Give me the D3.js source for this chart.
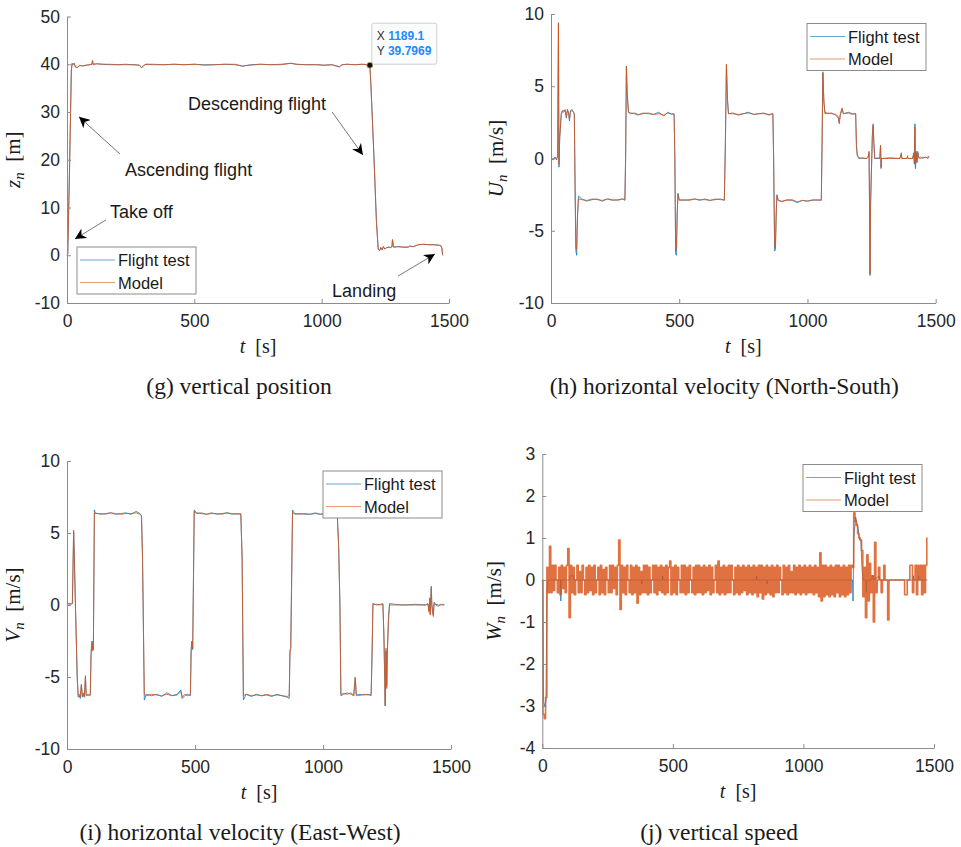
<!DOCTYPE html>
<html>
<head>
<meta charset="utf-8">
<script src="https://cdn.jsdelivr.net/npm/d3@7"></script>
<style>
  body { margin: 0; background: #fff; }
  .tick text { font-family: "Liberation Sans", Arial, sans-serif; font-size: 17.5px; fill: #262626; }
  .serif { font-family: "Liberation Serif", "Times New Roman", serif; fill: #1a1a1a; }
  .sans { font-family: "Liberation Sans", Arial, sans-serif; fill: #1a1a1a; }
</style>
</head>
<body>
<svg id="fig" width="961" height="847"></svg>
<script>
// common
var tTicks = [0, 500, 1000, 1500];
var seriesNames = ["Flight test", "Model"];
var colors = ["#0072BD", "#D95319"];

// (g) vertical position
var zT = [0,3,10,17,20,24,28,33,40,50,60,75,90,98,100,103,115,140,170,200,230,260,285,293,300,310,340,380,420,460,500,540,580,620,660,690,700,720,760,800,840,880,900,940,980,1010,1040,1070,1080,1100,1130,1160,1180,1189.1,1193,1205,1215,1222,1228,1232,1238,1242,1248,1255,1265,1270,1276,1278,1282,1300,1320,1340,1345,1360,1380,1400,1420,1440,1460,1468,1472,1475];
var zModel = [0,0.3,18,38.5,40.2,39.9,40.2,39.4,39.3,39.8,39.6,39.8,39.9,40.0,40.8,39.9,40.1,40.0,40.0,39.9,39.9,39.9,39.8,39.2,39.7,40.0,40.0,39.9,40.0,39.9,40.0,39.8,39.9,40.0,40.0,39.6,39.7,39.8,40.0,39.9,39.9,40.2,40.0,39.9,39.9,39.8,39.9,39.4,39.9,40.0,39.9,40.0,39.9,39.8,36,21,7,1.2,1.0,1.6,1.1,1.8,1.3,1.6,1.7,1.6,1.8,3.2,1.7,1.8,1.7,1.7,1.9,1.8,2.2,2.3,2.2,2.2,2.1,2.0,1.5,0];
var zFlight = [0,0.2,18.5,38.8,40.1,40.0,40.2,39.5,39.3,39.7,39.7,39.8,39.9,40.0,40.7,40.0,40.1,40.0,39.9,39.9,40.0,39.9,39.8,39.3,39.7,40.0,39.9,39.9,40.0,39.9,40.0,39.9,39.9,40.0,39.9,39.6,39.7,39.9,40.0,39.9,40.0,40.2,40.0,39.9,39.9,39.8,39.9,39.5,39.9,40.0,39.9,40.0,39.9,39.8,36.2,21.2,7.3,1.3,1.0,1.6,1.1,1.8,1.3,1.6,1.7,1.6,1.8,3.3,1.7,1.8,1.7,1.7,1.9,1.8,2.2,2.3,2.2,2.2,2.1,2.0,1.5,0];
var zTicks = [-10, 0, 10, 20, 30, 40, 50];

// (h) horizontal velocity North-South
var uT = [0,8,15,22,26,29,31,34,40,44,50,55,60,64,68,72,76,82,88,91,94,97,100,103,107,120,140,160,180,200,220,240,260,280,288,291,294,297,302,310,325,340,360,380,400,420,440,455,470,480,483,486,489,492,495,500,520,540,560,580,600,620,640,660,676,680,684,688,692,710,730,750,770,790,810,830,850,865,868,872,875,878,881,886,900,920,940,960,980,1000,1020,1040,1054,1057,1060,1064,1068,1080,1095,1110,1120,1124,1128,1135,1140,1160,1175,1188,1191,1194,1200,1215,1230,1238,1240,1242,1244,1246,1249,1253,1256,1259,1262,1275,1282,1285,1287,1289,1320,1360,1366,1368,1388,1390,1392,1410,1414,1417,1419,1421,1424,1427,1430,1434,1440,1450,1460,1470,1474];
var uModel = [0,-0.1,0.05,0,0.1,9.3,-0.4,1.5,3.0,3.3,3.2,3.4,2.9,3.3,3.2,2.7,3.3,3.3,3.2,3.0,-2.0,-6.2,-6.3,-4.0,-2.8,-2.85,-2.9,-2.8,-2.85,-2.9,-2.8,-2.85,-2.9,-2.8,-2.85,0,6.3,4.5,3.2,3.1,3.15,3.05,3.1,3.15,3.05,3.1,3.0,3.15,3.1,3.05,0,-6.4,-6.2,-4.0,-2.5,-2.9,-2.85,-2.9,-2.8,-2.85,-2.85,-2.9,-2.8,-2.85,-2.85,1.0,6.5,4.0,3.1,3.1,3.05,3.1,3.15,3.05,3.1,3.1,3.05,3.1,0,-6.1,-6.2,-4.0,-2.6,-2.9,-2.95,-2.9,-2.85,-3.0,-2.9,-2.95,-2.85,-2.9,-2.85,1.0,5.9,4.0,3.1,3.15,3.1,3.05,2.9,2.4,3.1,3.5,3.1,3.15,3.05,3.1,1.0,0.2,0.05,0,0,0.1,0.5,-3.0,-8.0,-3.3,-1.0,1.5,2.4,1.0,0,0.05,0,0.9,-0.6,0,0,0,0.4,0,0,0.2,0,0,0.3,-0.3,2.2,-0.6,0.3,-0.2,0.5,0,0.1,0,0.1,0,0.15];
var uFlight = [0,-0.05,0.1,-0.1,0.2,9.4,-0.6,1.4,3.1,3.3,3.3,3.3,2.8,3.4,3.2,2.6,3.3,3.4,3.2,3.1,-2.2,-6.4,-6.7,-4.2,-2.6,-2.8,-2.95,-2.85,-2.8,-2.95,-2.8,-2.9,-2.85,-2.8,-2.9,0.2,6.4,4.6,3.2,3.15,3.1,3.0,3.15,3.1,3.05,3.2,2.95,3.2,3.05,3.1,0,-6.6,-6.7,-3.8,-2.4,-2.85,-2.9,-2.85,-2.8,-2.9,-2.8,-2.9,-2.85,-2.8,-2.9,1.2,6.5,4.2,3.1,3.15,3.0,3.1,3.2,3.05,3.1,3.15,3.0,3.1,0.2,-6.4,-6.3,-3.8,-2.5,-2.9,-3.0,-2.85,-2.9,-3.05,-2.9,-2.95,-2.9,-2.85,-2.9,1.2,6.0,3.9,3.2,3.1,3.15,3.0,2.8,2.5,3.0,3.4,3.1,3.2,3.1,3.1,0.8,0.3,0,0.05,0,0.2,0.4,-3.4,-8.1,-3.2,-1.2,1.6,2.3,1.1,0,0,0,0.9,-0.7,0,0.05,0,0.3,0,0,0.1,0,0,0.4,-0.4,2.4,-0.7,0.5,-0.3,0.4,0.1,0,0.1,0.05,0.1,0.15];
var uTicks = [-10, -5, 0, 5, 10];

// (i) horizontal velocity East-West
var vT = [0,8,15,21,23,26,29,33,36,40,44,48,52,56,60,64,68,72,75,80,85,91,94,96,98,100,103,107,110,130,150,170,190,210,230,250,270,285,291,295,302,310,330,350,370,390,410,430,445,450,460,470,482,485,488,491,497,505,525,545,565,585,605,625,645,665,679,684,689,700,720,740,760,780,800,820,840,860,868,871,874,881,890,910,930,950,970,990,1010,1030,1050,1056,1061,1066,1070,1080,1095,1110,1120,1126,1130,1140,1160,1175,1188,1192,1195,1210,1225,1234,1238,1243,1246,1249,1252,1256,1260,1280,1320,1360,1400,1410,1414,1417,1419,1421,1423,1425,1428,1431,1434,1440,1450,1460,1468,1474];
var vModel = [0.1,0.05,0.1,0.1,2.0,5.2,3.0,0,-2.0,-5.0,-6.3,-6.2,-6.4,-5.5,-6.3,-6.1,-6.4,-4.9,-6.2,-6.3,-6.2,-6.3,-3.5,-3.0,-2.6,-3.2,-3.0,6.4,6.35,6.35,6.3,6.4,6.35,6.3,6.35,6.35,6.4,6.3,6.2,3.4,-6.2,-6.3,-6.2,-6.25,-6.3,-6.2,-6.3,-6.25,-6.0,-6.4,-6.2,-6.3,-6.2,-3.2,-2.6,-3.0,6.5,6.35,6.4,6.3,6.35,6.35,6.3,6.4,6.35,6.3,6.35,3.4,-6.3,-6.2,-6.3,-6.25,-6.3,-6.2,-6.3,-6.25,-6.3,-6.35,-6.3,-3.3,-3.1,6.4,6.35,6.3,6.35,6.3,6.4,6.3,6.35,6.3,6.3,6.2,4.2,0,-6.2,-6.15,-6.2,-6.1,-6.3,-5.0,-6.2,-6.3,-6.2,-6.25,-6.2,-3.0,0.05,0.05,0,0.05,-2.0,-7.0,-3.0,-5.8,-3.0,-1.0,0,0,0,0,0,0.05,-0.5,0.4,-0.7,0.3,1.2,0,-0.5,-0.8,0.2,0,-0.1,0.05,0,0];
var vFlight = [0.1,0.1,0.05,0.1,2.2,5.1,3.2,-0.2,-2.2,-5.2,-6.4,-6.3,-6.5,-5.6,-6.4,-6.2,-6.4,-5.0,-6.3,-6.2,-6.3,-6.2,-3.3,-2.8,-2.5,-3.1,-3.1,6.6,6.4,6.3,6.35,6.4,6.3,6.35,6.4,6.3,6.5,6.35,6.2,3.2,-6.6,-6.2,-6.3,-6.2,-6.35,-6.1,-6.3,-6.2,-5.9,-6.5,-6.3,-6.2,-6.3,-3.0,-2.5,-3.1,6.6,6.4,6.35,6.3,6.4,6.3,6.35,6.4,6.3,6.35,6.3,3.2,-6.6,-6.2,-6.35,-6.2,-6.3,-6.25,-6.35,-6.2,-6.3,-6.4,-6.5,-3.1,-3.0,6.6,6.3,6.35,6.3,6.3,6.35,6.3,6.4,6.3,6.35,6.1,4.1,0.2,-6.3,-6.2,-6.1,-6.2,-6.3,-5.1,-6.3,-6.2,-6.25,-6.2,-6.3,-3.2,0.1,0,0.05,0.1,-2.3,-7.0,-3.2,-5.6,-2.8,-0.8,0.1,0.05,0,0.05,0,0.1,-0.4,0.5,-0.6,0.2,1.3,0.1,-0.4,-0.7,0.1,0.05,0,0,0.05,0];
var vTicks = [-10, -5, 0, 5, 10];

// (j) vertical speed, model sampled every 5 s from t = 0
var wStep = 5;
var wModel = [
  0,-3.2,-3.3,-2.8,.3,-.3,.8,-.3,.35,-.25,.35,0,-.3,.3,-.35,.35,-.2,.3,-.3,.35,
  .75,-.9,.35,-.3,.3,-.35,0,.35,-.3,.2,-.3,.35,0,-.35,.3,-.3,.35,-.25,.3,-.35,
  .35,-.3,0,.3,-.35,.35,-.3,.25,-.35,.3,0,-.3,.35,-.3,.35,-.2,.3,-.35,.35,.95,
  -.7,.35,-.3,.3,-.35,.35,0,-.3,.35,-.35,.3,-.3,.35,-.55,.3,-.35,.2,-.3,.35,-.3,
  .35,-.35,.3,-.3,0,.35,-.3,.35,-.35,.3,-.25,.35,-.3,.3,-.35,.35,-.3,.3,.45,-.35,
  .3,-.3,.35,-.35,.3,0,-.3,.35,-.3,.35,-.35,.3,-.3,.35,0,-.3,.3,-.35,.35,-.3,
  .35,-.3,.3,-.35,.35,-.3,.3,-.25,.35,-.35,.3,-.3,0,.35,-.3,.45,-.35,.3,-.3,.35,
  -.35,.3,-.3,.35,-.3,.35,0,-.35,.3,-.3,.35,-.35,.3,-.3,.35,-.25,.3,-.35,.35,-.3,
  .3,-.35,.35,-.3,.3,-.4,.35,-.3,.35,-.45,.3,-.35,.35,-.3,.3,-.35,.35,-.4,.3,-.3,
  .35,-.3,.3,0,-.35,.35,-.3,.3,-.35,.35,-.3,.2,-.3,.35,-.35,.3,-.3,.35,-.35,.3,
  -.3,.35,-.35,.3,-.3,.35,-.3,.3,-.35,.35,-.3,.3,-.4,.65,-.5,.35,-.4,.35,-.35,.3,
  -.4,.35,-.35,.3,-.4,.35,-.3,.35,-.4,.3,-.35,.35,-.4,.3,-.35,.35,-.3,.35,.3,1.6,
  1.4,1.3,1.1,1.0,.95,.7,-.4,.3,-.9,.6,-.5,.4,-.3,.1,-1.0,.9,-.3,0,.3,0,
  -.3,0,.35,0,0,-.95,0,0,0,0,0,0,0,0,0,0,0,0,-.35,-.35,
  0,0,.35,.35,-.3,0,.35,-.35,.35,0,.35,-.35,.35,-.3,.35,1.0
];
var wFlightT = [0,2,5,10,14,18,22,70,71,72,105,106,120,121,380,381,382,460,461,463,820,821,822,860,861,862,1188,1190,1193,1200,1210,1215,1220,1224,1228,1240,1241,1243,1262,1263,1268,1270,1290,1292,1420,1421,1423,1440,1441,1442,1475];
var wFlight = [0,-0.5,-2.9,-3.0,-2.9,-0.3,0,0,-0.5,0,0,0.1,0.1,0,0,-0.1,0,0,0.1,0,0,0.1,0,0,-0.1,0,0,-0.5,1.0,1.5,1.2,0.95,0.95,0.3,0,0,-0.3,0,0,0.1,0.1,0,0.1,0,0,0.1,0,0,0.1,0,0];
var wTicks = [-4, -3, -2, -1, 0, 1, 2, 3];

function pairs(t, v) { return t.map(function(d, i) { return [d, v[i]]; }); }

var panels = [
  { id: "g", left: 67, top: 16.5, right: 449, bottom: 303, yDomain: [-10, 50], yTicks: zTicks,
    sym: "z", unit: "[m]", ylabX: 20, caption: "(g) vertical position", capY: 394,
    legend: [77, 247],
    series: [{ data: pairs(zT, zFlight) }, { data: pairs(zT, zModel) }] },
  { id: "h", left: 551, top: 14, right: 935.7, bottom: 303, yDomain: [-10, 10], yTicks: uTicks,
    sym: "U", unit: "[m/s]", ylabX: 503, caption: "(h) horizontal velocity (North-South)", capY: 394,
    legend: [807, 23.5],
    series: [{ data: pairs(uT, uFlight) }, { data: pairs(uT, uModel) }] },
  { id: "i", left: 67, top: 461, right: 451, bottom: 749, yDomain: [-10, 10], yTicks: vTicks,
    sym: "V", unit: "[m/s]", ylabX: 20, caption: "(i) horizontal velocity (East-West)", capY: 840,
    legend: [323, 471],
    series: [{ data: pairs(vT, vFlight) }, { data: pairs(vT, vModel) }] },
  { id: "j", left: 542.3, top: 454, right: 934, bottom: 748, yDomain: [-4, 3], yTicks: wTicks,
    sym: "W", unit: "[m/s]", ylabX: 501, caption: "(j) vertical speed", capY: 840,
    legend: [803, 464.5],
    series: [{ data: pairs(wFlightT, wFlight) },
             { data: wModel.map(function(v, i) { return [i * wStep, v]; }), width: 1.6, step: true }] }
];

var svg = d3.select("#fig");
var plain = function(d) { return String(d); };

panels.forEach(function(p) {
  var x = d3.scaleLinear().domain([0, 1500]).range([p.left, p.right]);
  var y = d3.scaleLinear().domain(p.yDomain).range([p.bottom, p.top]);
  p.x = x; p.y = y;
  var g = svg.append("g").attr("id", "panel-" + p.id);

  // data lines, flight test first, model on top
  p.series.forEach(function(s, k) {
    var line = d3.line().x(function(d) { return x(d[0]); }).y(function(d) { return y(d[1]); });
    if (s.step) line.curve(d3.curveStep);
    g.append("path")
      .datum(s.data)
      .attr("d", line)
      .attr("fill", "none")
      .attr("stroke", colors[k])
      .attr("stroke-width", s.width || 1)
      .attr("stroke-opacity", k == 0 ? 0.75 : 0.82)
      .attr("stroke-linejoin", "round");
  });

  // axes, ticks pointing inward like matlab
  var xa = g.append("g").attr("transform", "translate(0," + p.bottom + ")")
    .call(d3.axisBottom(x).tickValues(tTicks).tickFormat(plain).tickSizeInner(-4).tickSizeOuter(0).tickPadding(12));
  var ya = g.append("g").attr("transform", "translate(" + p.left + ",0)")
    .call(d3.axisLeft(y).tickValues(p.yTicks).tickFormat(plain).tickSizeInner(-4).tickSizeOuter(0).tickPadding(7));
  [xa, ya].forEach(function(a) {
    a.select(".domain").attr("stroke", "#8c8c8c");
    a.selectAll(".tick line").attr("stroke", "#8c8c8c");
    a.attr("font-family", null).attr("font-size", null);
  });

  // x label
  var xl = g.append("text").attr("class", "serif")
    .attr("x", (p.left + p.right) / 2).attr("y", p.bottom + 50)
    .attr("text-anchor", "middle").attr("font-size", 20);
  xl.append("tspan").attr("font-style", "italic").text("t");
  xl.append("tspan").text("\u2002[s]");

  // y label
  var yl = g.append("text").attr("class", "serif")
    .attr("transform", "translate(" + p.ylabX + "," + (p.top + p.bottom) / 2 + ") rotate(-90)")
    .attr("text-anchor", "middle").attr("font-size", 21);
  yl.append("tspan").attr("font-style", "italic").text(p.sym);
  yl.append("tspan").attr("font-style", "italic").attr("font-size", 15).attr("dy", 4).text("n");
  yl.append("tspan").attr("dy", -4).text("\u2002" + p.unit);

  // caption
  svg.append("text").attr("class", "serif")
    .attr("x", (p.left + p.right) / 2 - 19).attr("y", p.capY)
    .attr("text-anchor", "middle").attr("font-size", 23.5)
    .text(p.caption);

  // legend
  var lg = g.append("g").attr("transform", "translate(" + p.legend[0] + "," + p.legend[1] + ")");
  lg.append("rect").attr("width", 119).attr("height", 47)
    .attr("fill", "#fff").attr("stroke", "#8c8c8c").attr("stroke-width", 1);
  seriesNames.forEach(function(name, k) {
    var ly = 13 + k * 22.5;
    lg.append("line").attr("x1", 3).attr("x2", 38).attr("y1", ly).attr("y2", ly)
      .attr("stroke", colors[k]).attr("stroke-opacity", 0.6).attr("stroke-width", 1.2);
    lg.append("text").attr("class", "sans").attr("x", 41).attr("y", ly + 6)
      .attr("font-size", 16.5).attr("fill", "#000").text(name);
  });
});

// annotations on (g), in data units
var notes = [
  { text: "Descending flight", tx: 475, tz: 30.5, from: [1041, 30.0], to: [1162, 21.0] },
  { text: "Ascending flight", tx: 228, tz: 16.5, from: [208, 21.2], to: [47, 29.0] },
  { text: "Take off", tx: 169, tz: 7.7, from: [153, 7.4], to: [31, 3.4] },
  { text: "Landing", tx: 1041, tz: -8.7, from: [1300, -4.35], to: [1445, 0.26] }
];
var pg = panels[0];
svg.append("defs").append("marker")
  .attr("id", "head").attr("viewBox", "0 0 10 10").attr("refX", 10).attr("refY", 5)
  .attr("markerWidth", 11).attr("markerHeight", 11).attr("markerUnits", "userSpaceOnUse")
  .attr("orient", "auto")
  .append("path").attr("d", "M0,0L10,5L0,10L3,5Z").attr("fill", "#000");
var ann = svg.append("g");
notes.forEach(function(n) {
  ann.append("line")
    .attr("x1", pg.x(n.from[0])).attr("y1", pg.y(n.from[1]))
    .attr("x2", pg.x(n.to[0])).attr("y2", pg.y(n.to[1]))
    .attr("stroke", "#555").attr("stroke-width", 0.8).attr("marker-end", "url(#head)");
  ann.append("text").attr("class", "sans")
    .attr("x", pg.x(n.tx)).attr("y", pg.y(n.tz))
    .attr("font-size", 18).attr("fill", "#000").text(n.text);
});

// data tip
var tipT = 1189.1, tipZ = 39.7969;
var px = pg.x(tipT), py = pg.y(tipZ);
var tip = svg.append("g").attr("transform", "translate(" + (px + 2) + "," + (py - 42) + ")");
tip.append("rect").attr("width", 65).attr("height", 41).attr("rx", 2)
  .attr("fill", "#fbfcfe").attr("stroke", "#cfcfcf");
[["X", tipT.toFixed(1)], ["Y", String(tipZ)]].forEach(function(r, k) {
  var t = tip.append("text").attr("class", "sans").attr("x", 5).attr("y", 17 + k * 14.5)
    .attr("font-size", 12);
  t.append("tspan").attr("fill", "#333").text(r[0] + " ");
  t.append("tspan").attr("fill", "#1a8cff").attr("font-weight", "bold").text(r[1]);
});
svg.append("circle").attr("cx", px).attr("cy", py).attr("r", 3)
  .attr("fill", "#111").attr("stroke", "#c8c060").attr("stroke-width", 0.8);
</script>
</body>
</html>
